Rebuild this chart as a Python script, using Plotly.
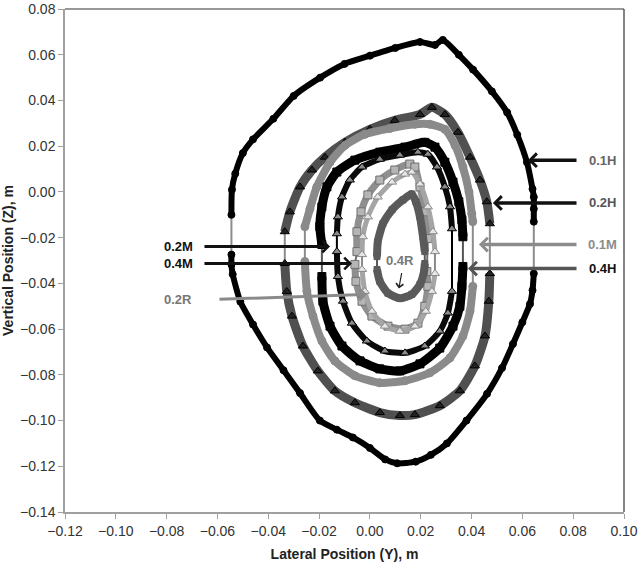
import plotly.graph_objects as go

# ---------------- data (Lateral Y, Vertical Z in metres) ----------------
# Each orbit is split into an upper arc and a lower arc (left seam -> right seam)
h01_top_y = [-0.0545, -0.0543, -0.053, -0.050, -0.046, -0.038, -0.030, -0.0196, -0.010, 0.0, 0.010, 0.0197,
             0.0256, 0.0287, 0.035, 0.0406, 0.048, 0.054, 0.058, 0.0618, 0.064, 0.0645, 0.0645, 0.0645]
h01_top_z = [-0.010, 0.001, 0.008, 0.017, 0.023, 0.032, 0.042, 0.050, 0.056, 0.0596, 0.063, 0.0656,
             0.0643, 0.0665, 0.060, 0.0535, 0.044, 0.0348, 0.025, 0.013, 0.0013, -0.0022, -0.0074, -0.013]
h01_bot_y = [-0.0545, -0.0545, -0.054, -0.051, -0.046, -0.0405, -0.034, -0.0275, -0.0197, -0.013, -0.0067,
             0.0, 0.006, 0.0107, 0.018, 0.024, 0.0303, 0.038, 0.0461, 0.052, 0.0563, 0.060, 0.063, 0.064, 0.0645]
h01_bot_z = [-0.0274, -0.0317, -0.036, -0.048, -0.058, -0.068, -0.078, -0.088, -0.100, -0.104, -0.1074,
             -0.112, -0.117, -0.1187, -0.118, -0.115, -0.110, -0.100, -0.0883, -0.077, -0.0665, -0.057, -0.049, -0.043, -0.0357]

h02_top_y = [-0.0335, -0.0315, -0.0275, -0.0228, -0.0177, -0.0098, 0.0, 0.0098, 0.0197, 0.0244, 0.0295,
             0.0346, 0.0394, 0.0433, 0.0460, 0.0472]
h02_top_z = [-0.0174, -0.0087, 0.0022, 0.0096, 0.0152, 0.0217, 0.0274, 0.0313, 0.0339, 0.0370, 0.0339,
             0.0261, 0.0152, 0.0052, -0.0043, -0.0139]
h02_bot_y = [-0.0335, -0.0327, -0.0307, -0.0264, -0.0205, -0.0138, -0.0059, 0.0039, 0.0118, 0.0177, 0.0275,
             0.0354, 0.0413, 0.0453, 0.0468, 0.0472]
h02_bot_z = [-0.0313, -0.0435, -0.0543, -0.0674, -0.0783, -0.0870, -0.0922, -0.0965, -0.0978, -0.0974, -0.0935,
             -0.0870, -0.0761, -0.0630, -0.0478, -0.0357]

m01_top_y = [-0.0256, -0.0236, -0.0209, -0.0157, -0.0098, -0.0020, 0.0079, 0.0177, 0.0236, 0.0295, 0.0335,
             0.0366, 0.0390, 0.0401, 0.0405]
m01_top_z = [-0.0152, -0.0074, 0.0022, 0.0130, 0.0204, 0.0252, 0.0278, 0.0296, 0.0296, 0.0274, 0.0204,
             0.0109, 0.0, -0.0096, -0.0130]
m01_bot_y = [-0.0256, -0.0248, -0.0224, -0.0189, -0.0138, -0.0059, 0.0039, 0.0138, 0.0236, 0.0315, 0.0366,
             0.0394, 0.0405]
m01_bot_z = [-0.0304, -0.0435, -0.0543, -0.0652, -0.0739, -0.0804, -0.0835, -0.0826, -0.0791, -0.0726, -0.0630,
             -0.0522, -0.0413]

h04_top_y = [-0.0189, -0.0197, -0.0189, -0.0169, -0.0130, -0.0059, 0.0039, 0.0138, 0.0216, 0.0256, 0.0295,
             0.0327, 0.0350, 0.0362, 0.0366]
h04_top_z = [-0.0230, -0.0152, -0.0065, 0.0022, 0.0087, 0.0139, 0.0174, 0.0196, 0.0217, 0.0196, 0.0130,
             0.0043, -0.0043, -0.0122, -0.0196]
h04_bot_y = [-0.0189, -0.0185, -0.0157, -0.0110, -0.0039, 0.0039, 0.0118, 0.0197, 0.0275, 0.0327, 0.0354,
             0.0362, 0.0366]
h04_bot_z = [-0.0370, -0.0478, -0.0587, -0.0674, -0.0739, -0.0774, -0.0783, -0.0752, -0.0683, -0.0587, -0.0500,
             -0.0413, -0.0326]

m02_top_y = [-0.0130, -0.0126, -0.0110, -0.0079, -0.0031, 0.0039, 0.0118, 0.0189, 0.0228, 0.0264, 0.0295,
             0.0315, 0.0323]
m02_top_z = [-0.0183, -0.0109, -0.0022, 0.0052, 0.0109, 0.0143, 0.0161, 0.0174, 0.0165, 0.0109, 0.0022,
             -0.0065, -0.0161]
m02_bot_y = [-0.0130, -0.0126, -0.0106, -0.0071, -0.0012, 0.0059, 0.0138, 0.0216, 0.0275, 0.0307, 0.0323]
m02_bot_z = [-0.0261, -0.0370, -0.0478, -0.0574, -0.0652, -0.0696, -0.0704, -0.0674, -0.0609, -0.0530, -0.0435]

m04_top_y = [-0.0051, -0.0051, -0.0035, -0.0008, 0.0039, 0.0098, 0.0157, 0.0177, 0.0197, 0.0216, 0.0228]
m04_top_z = [-0.0261, -0.0174, -0.0087, -0.0013, 0.0052, 0.0096, 0.0122, 0.0109, 0.0022, -0.0087, -0.0204]
m04_bot_y = [-0.0059, -0.0055, -0.0031, 0.0008, 0.0071, 0.0138, 0.0189, 0.0216, 0.0228, 0.0224]
m04_bot_z = [-0.0317, -0.0391, -0.0478, -0.0543, -0.0587, -0.0600, -0.0574, -0.0500, -0.0413, -0.0348]

r02_top_y = [-0.0031, -0.0028, -0.0008, 0.0031, 0.0087, 0.0138, 0.0165, 0.0197, 0.0228, 0.0248, 0.0256]
r02_top_z = [-0.0274, -0.0196, -0.0109, -0.0022, 0.0043, 0.0078, 0.0087, 0.0035, -0.0065, -0.0174, -0.0261]
r02_bot_y = [-0.0031, -0.0020, 0.0008, 0.0059, 0.0118, 0.0177, 0.0220, 0.0244, 0.0256]
r02_bot_z = [-0.0339, -0.0435, -0.0522, -0.0587, -0.0609, -0.0587, -0.0522, -0.0435, -0.0357]

r04_top_y = [0.0028, 0.0031, 0.0051, 0.0087, 0.0130, 0.0165, 0.0181, 0.0197, 0.0209, 0.0216]
r04_top_z = [-0.0283, -0.0217, -0.0139, -0.0078, -0.0035, -0.0009, -0.0043, -0.0109, -0.0196, -0.0261]
r04_bot_y = [0.0028, 0.0039, 0.0071, 0.0118, 0.0165, 0.0197, 0.0213, 0.0216]
r04_bot_z = [-0.0339, -0.0391, -0.0443, -0.0465, -0.0448, -0.0404, -0.0348, -0.0313]

x_ticks = [-0.12, -0.10, -0.08, -0.06, -0.04, -0.02, 0.00, 0.02, 0.04, 0.06, 0.08, 0.10]
y_ticks = [-0.14, -0.12, -0.10, -0.08, -0.06, -0.04, -0.02, 0.00, 0.02, 0.04, 0.06, 0.08]

right_labels = ["0.1H", "0.2H", "0.1M", "0.4H"]
right_label_z = [0.0139, -0.0048, -0.0230, -0.0335]
right_head_y = [0.0622, 0.0484, 0.0429, 0.0386]
left_labels = ["0.2M", "0.4M", "0.2R"]
left_label_z = [-0.0239, -0.0313, -0.0470]
left_head_y = [-0.0157, -0.0071, -0.0012]
left_head_z = [-0.0239, -0.0313, -0.0448]

# ---------------- figure ----------------
fig = go.Figure()

styles = [
    (h01_top_y, h01_top_z, h01_bot_y, h01_bot_z, "#000000", 6, "circle", "#000000", "#000000", 7, "#8c8c8c"),
    (h02_top_y, h02_top_z, h02_bot_y, h02_bot_z, "#505050", 9, "triangle-up", "#222222", "#000000", 8, "#8c8c8c"),
    (m01_top_y, m01_top_z, m01_bot_y, m01_bot_z, "#8a8a8a", 8, "circle", "#8a8a8a", "#8a8a8a", 8, "#8c8c8c"),
    (h04_top_y, h04_top_z, h04_bot_y, h04_bot_z, "#000000", 9, "square", "#000000", "#000000", 8, "#555555"),
    (m02_top_y, m02_top_z, m02_bot_y, m02_bot_z, "#0a0a0a", 6, "triangle-up", "#8a8a8a", "#000000", 8, "#000000"),
    (m04_top_y, m04_top_z, m04_bot_y, m04_bot_z, "#8f8f8f", 7, "square", "#b5b5b5", "#6f6f6f", 8, "#6f6f6f"),
    (r02_top_y, r02_top_z, r02_bot_y, r02_bot_z, "#a5a5a5", 5, "triangle-up", "#e6e6e6", "#8a8a8a", 8, "#8a8a8a"),
    (r04_top_y, r04_top_z, r04_bot_y, r04_bot_z, "#5a5a5a", 8, "square", "#5a5a5a", "#5a5a5a", 6, "#5a5a5a"),
]

for ty, tz, by, bz, lc, lw, sym, mf, me, ms, sc in styles:
    fig.add_trace(go.Scatter(
        x=[ty[0], by[0], None, ty[-1], by[-1]],
        y=[tz[0], bz[0], None, tz[-1], bz[-1]],
        mode="lines", line=dict(color=sc, width=2), hoverinfo="skip", showlegend=False))
    fig.add_trace(go.Scatter(
        x=ty + [None] + by, y=tz + [None] + bz,
        mode="lines+markers",
        line=dict(color=lc, width=lw, shape="spline", smoothing=0.6),
        marker=dict(symbol=sym, color=mf, size=ms, line=dict(color=me, width=1)),
        connectgaps=False, showlegend=False))

right_text_colors = ["#666666", "#555555", "#8c8c8c", "#111111"]
right_arrow_colors = ["#111111", "#111111", "#8c8c8c", "#555555"]
for lab, z, hy, tc, ac in zip(right_labels, right_label_z, right_head_y, right_text_colors, right_arrow_colors):
    fig.add_annotation(x=hy, y=z, ax=0.0819, ay=z, xref="x", yref="y", axref="x", ayref="y",
                       text="", showarrow=True, arrowhead=4, arrowsize=0.75, arrowwidth=3.5, arrowcolor=ac)
    fig.add_annotation(x=0.0915, y=z, xref="x", yref="y", text="<b>%s</b>" % lab, showarrow=False,
                       font=dict(family="Liberation Sans, Arial", size=13, color=tc))

left_text_colors = ["#111111", "#111111", "#777777"]
left_arrow_colors = ["#111111", "#111111", "#8a8a8a"]
left_tail_y = [-0.0657, -0.0657, -0.0598]
for lab, z, hy, hz, ty_, tc, ac in zip(left_labels, left_label_z, left_head_y, left_head_z, left_tail_y,
                                         left_text_colors, left_arrow_colors):
    fig.add_annotation(x=hy, y=hz, ax=ty_, ay=z, xref="x", yref="y", axref="x", ayref="y",
                       text="", showarrow=True, arrowhead=4, arrowsize=0.75, arrowwidth=3, arrowcolor=ac)
    fig.add_annotation(x=-0.0755, y=z, xref="x", yref="y", text="<b>%s</b>" % lab, showarrow=False,
                       font=dict(family="Liberation Sans, Arial", size=13, color=tc))

fig.add_annotation(x=0.0114, y=-0.0422, ax=0.0126, ay=-0.0348, xref="x", yref="y", axref="x", ayref="y",
                   text="", showarrow=True, arrowhead=4, arrowsize=1.2, arrowwidth=1.2, arrowcolor="#222222")
fig.add_annotation(x=0.0118, y=-0.0300, xref="x", yref="y", text="<b>0.4R</b>", showarrow=False,
                   font=dict(family="Liberation Sans, Arial", size=13, color="#777777"))

fig.add_shape(type="line", xref="paper", yref="paper", x0=0, x1=1, y0=1, y1=1, line=dict(color="#333333", width=1.2))
fig.add_shape(type="line", xref="paper", yref="paper", x0=1, x1=1, y0=0, y1=1, line=dict(color="#333333", width=1.2))

axis_common = dict(showgrid=False, zeroline=False, showline=True, linecolor="#a0a0a0", linewidth=1.5,
                   ticks="outside", ticklen=5, tickcolor="#a0a0a0", tickformat=".2f",
                   ticklabeloverflow="allow", automargin=False,
                   tickfont=dict(family="Liberation Sans, Arial", size=14, color="#333333"))

fig.update_layout(
    width=640, height=568,
    margin=dict(l=65, r=16, t=9, b=56),
    paper_bgcolor="white", plot_bgcolor="white",
    showlegend=False,
    xaxis=dict(range=[-0.12, 0.10], tickvals=x_ticks,
               title=dict(text="<b>Lateral Position (Y), m</b>", standoff=12,
                          font=dict(family="Liberation Sans, Arial", size=14, color="#222222")),
               **axis_common),
    yaxis=dict(range=[-0.14, 0.08002], tickvals=y_ticks,
               title=dict(text="<b>Vertical Position (Z), m</b>", standoff=6,
                          font=dict(family="Liberation Sans, Arial", size=14, color="#222222")),
               **axis_common),
)

fig.write_html("out.html", config={"displayModeBar": False},
               post_script="document.body.style.margin='0';document.body.style.padding='0';")
